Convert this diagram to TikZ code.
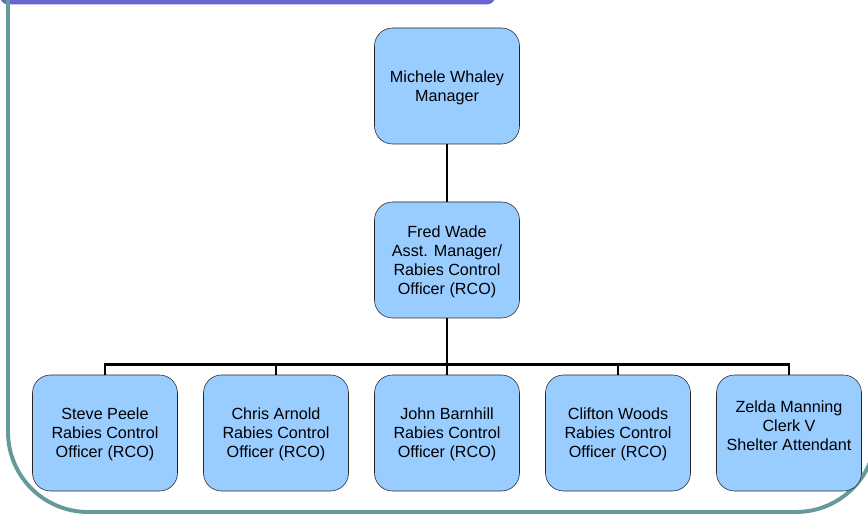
\documentclass[tikz,border=0pt]{standalone}
\usepackage{fontspec}
\setmainfont{Liberation Sans}
\usepackage{tikz}

\definecolor{boxblue}{HTML}{99CCFF}
\definecolor{bandpurple}{HTML}{6666CC}
\definecolor{frameteal}{HTML}{669999}

\begin{document}
\begin{tikzpicture}[
    person/.style={draw=black!85, fill=boxblue, rounded corners=0.45cm,
      minimum width=3.625cm, minimum height=2.9cm, align=center,
      inner sep=2pt, text depth=-1.8pt,
      font=\fontsize{11.5}{13.6}\selectfont},
    link/.style={line width=2.1pt}]
  \clip (0,0) rectangle (21.7,12.85);

  \fill [bandpurple, rounded corners=0.2cm] (0,12.74) rectangle (12.38,13.2);
  \draw [frameteal, line width=2.8pt, rounded corners=2cm]
    (0.2,13) -- (0.2,0.05) -- (21.9,0.05) -- (21.9,13);

  \node [person] (manager) at (11.175,10.7) {Michele Whaley\\Manager};
  \node [person] (asst) at (11.175,6.35)
    {Fred Wade\\Asst. Manager/\\Rabies Control\\Officer (RCO)};

  \node [person] (peele) at (2.625,2.025) {Steve Peele\\Rabies Control\\Officer (RCO)};
  \node [person] (arnold) at (6.9,2.025) {Chris Arnold\\Rabies Control\\Officer (RCO)};
  \node [person] (barnhill) at (11.175,2.025) {John Barnhill\\Rabies Control\\Officer (RCO)};
  \node [person] (woods) at (15.45,2.025) {Clifton Woods\\Rabies Control\\Officer (RCO)};
  \node [person, text depth=11pt] (manning) at (19.725,2.025)
    {Zelda Manning\\Clerk V\\Shelter Attendant};

  \coordinate (bus) at (11.175,3.74);

  \draw [link] (manager) -- (asst);
  \draw [link] (asst) -- (bus);
  \draw [link] (bus) -| (peele);
  \draw [link] (bus) -| (arnold);
  \draw [link] (bus) -- (barnhill);
  \draw [link] (bus) -| (woods);
  \draw [link] (bus) -| (manning);
\end{tikzpicture}
\end{document}
